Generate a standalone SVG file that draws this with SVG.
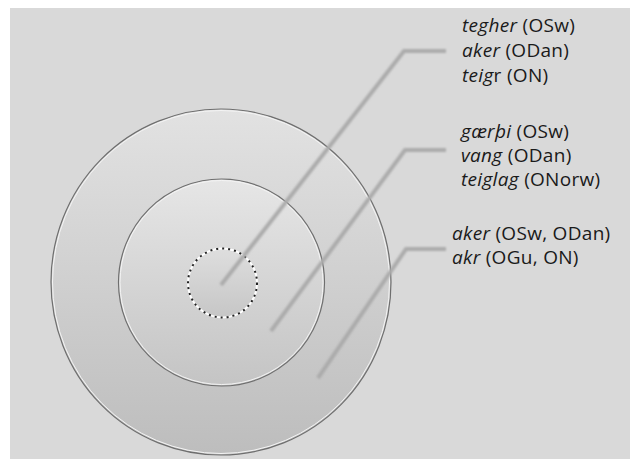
<svg xmlns="http://www.w3.org/2000/svg" width="630" height="459" viewBox="0 0 630 459">
<defs>
<linearGradient id="gOuter" x1="0" y1="0" x2="0" y2="1">
<stop offset="0" stop-color="#e2e2e2"/>
<stop offset="1" stop-color="#bdbdbd"/>
</linearGradient>
<linearGradient id="gMid" x1="0" y1="0" x2="0" y2="1">
<stop offset="0" stop-color="#e6e6e6"/>
<stop offset="1" stop-color="#c4c4c4"/>
</linearGradient>
<linearGradient id="gIn" x1="0" y1="0" x2="0" y2="1">
<stop offset="0" stop-color="#dedede"/>
<stop offset="1" stop-color="#c6c6c6"/>
</linearGradient>
<filter id="soft" x="-10%" y="-10%" width="120%" height="120%">
<feGaussianBlur stdDeviation="0.8"/>
</filter>
</defs>
<style>
.ring{stroke:#6e6e6e;stroke-width:1.2}
.hl{fill:none;stroke:#f4f4f4;stroke-width:1}
.lead{fill:none;stroke:#ababab;stroke-width:4;stroke-linejoin:miter}
text{font-family:"Open Sans","Noto Sans",sans-serif;font-size:19px;letter-spacing:0.3px;fill:#1a1a1a}
.it{font-style:italic}
</style>
<rect x="0" y="0" width="630" height="459" fill="#ffffff"/>
<rect x="10" y="8" width="620" height="451" fill="#d9d9d9"/>
<g id="outer">
<ellipse cx="221" cy="282" rx="170" ry="173" fill="url(#gOuter)" class="ring"/>
<ellipse cx="221" cy="282" rx="168.5" ry="171.5" class="hl"/>
</g>
<g id="middle">
<ellipse cx="221.5" cy="282.5" rx="103" ry="103.5" fill="url(#gMid)" class="ring"/>
<ellipse cx="221.5" cy="282.5" rx="101.5" ry="102" class="hl"/>
</g>
<g id="inner">
<circle cx="222.5" cy="283" r="34.5" fill="url(#gIn)" stroke="#ffffff" stroke-width="2"/>
<circle cx="222.5" cy="283" r="34.5" fill="none" stroke="#222" stroke-width="2" stroke-dasharray="2 4"/>
</g>
<g id="connectors" filter="url(#soft)">
<polyline class="lead" points="221,285 404,51 446,51"/>
<polyline class="lead" points="271,331 405,150 446,150"/>
<polyline class="lead" points="318,378 406,249 446,249"/>
</g>
<g id="label-core">
<text x="462" y="32"><tspan class="it">tegher</tspan> (OSw)</text>
<text x="462" y="57"><tspan class="it">aker</tspan> (ODan)</text>
<text x="462" y="82"><tspan class="it">teig</tspan>r (ON)</text>
</g>
<g id="label-middle">
<text x="461" y="138"><tspan class="it">gærþi</tspan> (OSw)</text>
<text x="461" y="162"><tspan class="it">vang</tspan> (ODan)</text>
<text x="461" y="186"><tspan class="it">teiglag</tspan> (ONorw)</text>
</g>
<g id="label-outer">
<text x="452" y="240"><tspan class="it">aker</tspan> (OSw, ODan)</text>
<text x="452" y="264"><tspan class="it">akr</tspan> (OGu, ON)</text>
</g>
</svg>
